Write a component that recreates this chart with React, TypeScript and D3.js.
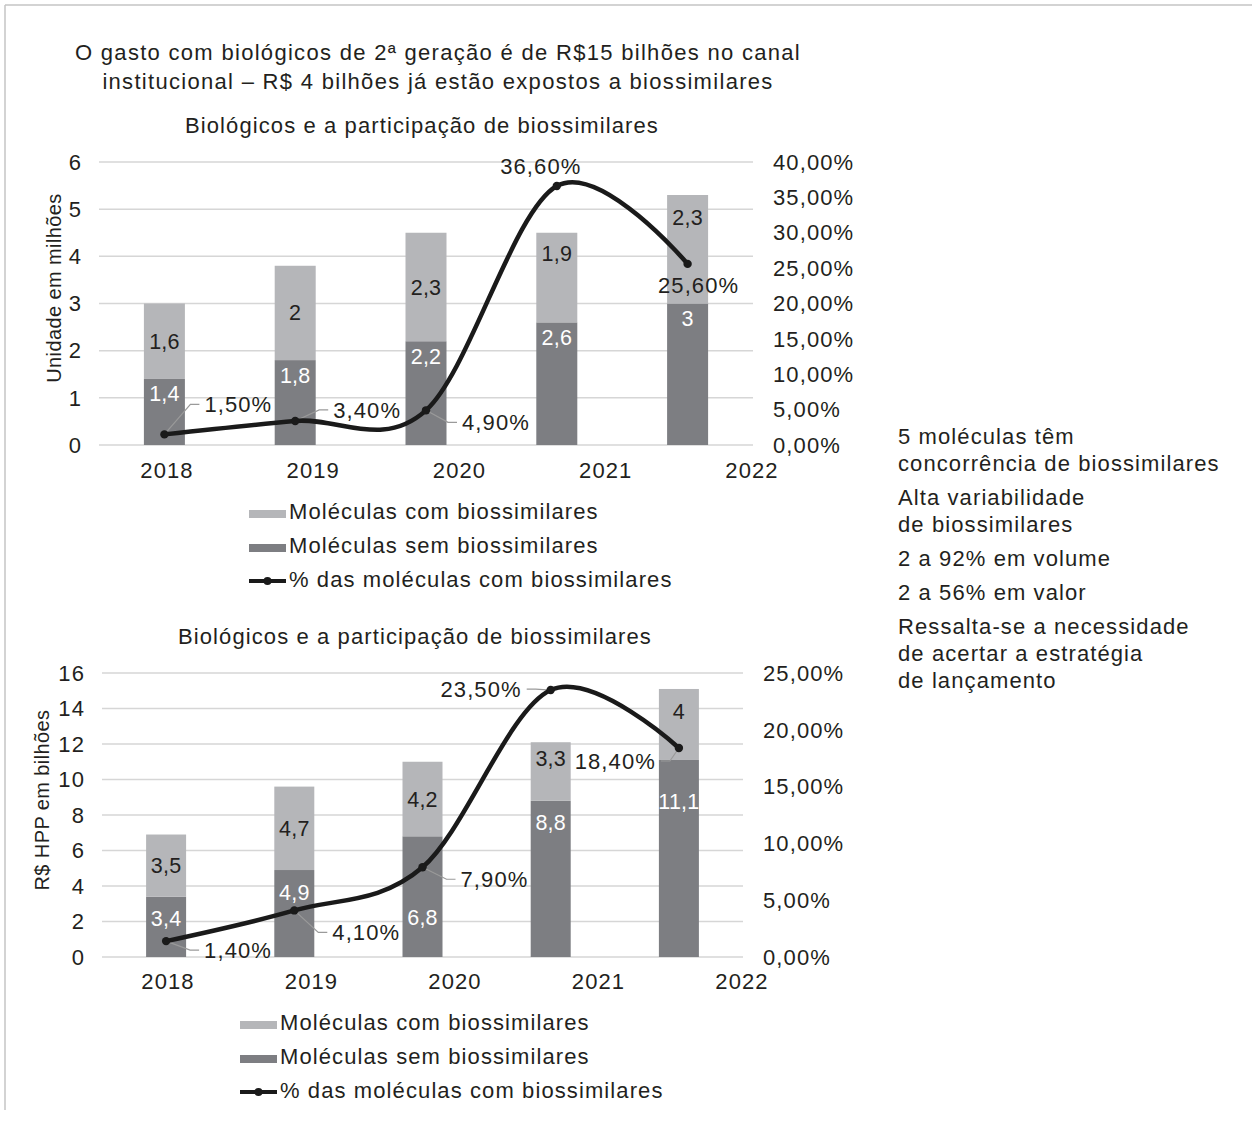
import * as d3 from 'd3'
import React from 'react'

const years = ['2018', '2019', '2020', '2021', '2022']

// gráfico 1 - unidades (milhões)
const unitsWithout = [1.4, 1.8, 2.2, 2.6, 3]
const unitsWith = [1.6, 2, 2.3, 1.9, 2.3]
const unitsShare = [1.5, 3.4, 4.9, 36.6, 25.6]

// gráfico 2 - R$ HPP (bilhões)
const valueWithout = [3.4, 4.9, 6.8, 8.8, 11.1]
const valueWith = [3.5, 4.7, 4.2, 3.3, 4]
const valueShare = [1.4, 4.1, 7.9, 23.5, 18.4]

const headline = [
    'O gasto com biológicos de 2ª geração é de R$15 bilhões no canal',
    'institucional – R$ 4 bilhões já estão expostos a biossimilares',
]
const chartTitle = 'Biológicos e a participação de biossimilares'
const legendLabels = [
    'Moléculas com biossimilares',
    'Moléculas sem biossimilares',
    '% das moléculas com biossimilares',
]
const notes = [
    ['5 moléculas têm', 'concorrência de biossimilares'],
    ['Alta variabilidade', 'de biossimilares'],
    ['2 a 92% em volume'],
    ['2 a 56% em valor'],
    ['Ressalta-se a necessidade', 'de acertar a estratégia', 'de lançamento'],
]

const FONT = "'Liberation Sans', Arial, Helvetica, sans-serif"
const INK = '#231f20'
const LIGHT = '#b5b6b9'
const DARK = '#7d7e82'
const GRID = '#d6d6d6'

const pt = d3.formatLocale({ decimal: ',', thousands: '.', grouping: [3], currency: ['R$', ''] })
const fmtVal = pt.format('.3~g')
const fmtPct = (v: number) => `${pt.format('.2f')(v)}%`

type Place = { dx: number; dy: number; anchor: 'start' | 'middle' | 'end'; leader: boolean }

type ChartProps = {
    left: number
    right: number
    top: number
    bottom: number
    yMax: number
    yStep: number
    pctMax: number
    pctStep: number
    without: number[]
    withB: number[]
    share: number[]
    yTitle: string
    yTitleX: number
    yTitleY: number
    titleX: number
    titleY: number
    labelStart: number
    labelY: number
    barW: number
    darkOffset: number
    darkNudge: number[]
    lightNudge: number[]
    places: Place[]
    legendX: number
    legendY: number
}

const Chart = (p: ChartProps): JSX.Element => {
    const x = d3.scaleBand<string>().domain(years).range([p.left, p.right]).padding(0)
    const y = d3.scaleLinear().domain([0, p.yMax]).range([p.bottom, p.top])
    const yPct = d3.scaleLinear().domain([0, p.pctMax]).range([p.bottom, p.top])
    const xLabel = d3.scalePoint<string>().domain(years).range([p.labelStart, p.right - 1])

    const yTicks = d3.range(0, p.yMax + 0.001, p.yStep)
    const pctTicks = d3.range(0, p.pctMax + 0.001, p.pctStep)

    const cx = (yr: string) => (x(yr) as number) + x.bandwidth() / 2
    const pts: [number, number][] = years.map((yr, i) => [cx(yr), yPct(p.share[i])])
    const line = d3.line().curve(d3.curveCardinal.tension(0))

    const txt = { fontFamily: FONT, fontSize: 22, letterSpacing: 1.1, fill: INK }
    const barTxt = { fontFamily: FONT, fontSize: 21.5, letterSpacing: 0.2 }

    return (
        <g>
            <text x={p.titleX} y={p.titleY} textAnchor="middle" {...txt}>
                {chartTitle}
            </text>

            {/* gridlines */}
            {yTicks.map((t) => (
                <line key={`g${t}`} x1={p.left} x2={p.right} y1={y(t)} y2={y(t)} stroke={GRID} strokeWidth={1.5} />
            ))}

            {/* left axis */}
            {yTicks.map((t) => (
                <text key={`l${t}`} x={p.left - 17} y={y(t)} dy="0.35em" textAnchor="end" {...txt}>
                    {t}
                </text>
            ))}
            {/* right axis */}
            {pctTicks.map((t) => (
                <text key={`r${t}`} x={p.right + 20} y={yPct(t)} dy="0.35em" textAnchor="start" {...txt}>
                    {fmtPct(t)}
                </text>
            ))}
            {/* x labels */}
            {years.map((yr) => (
                <text key={`x${yr}`} x={xLabel(yr)} y={p.labelY} dy="0.35em" textAnchor="middle" {...txt}>
                    {yr}
                </text>
            ))}

            <text
                transform={`translate(${p.yTitleX},${p.yTitleY}) rotate(-90)`}
                textAnchor="middle"
                fontFamily={FONT}
                fontSize={20}
                letterSpacing={0.4}
                fill={INK}
            >
                {p.yTitle}
            </text>

            {/* stacked bars */}
            {years.map((yr, i) => {
                const bx = cx(yr) - p.barW / 2
                const d0 = p.without[i]
                const d1 = d0 + p.withB[i]
                return (
                    <g key={`b${yr}`}>
                        <rect x={bx} y={y(d0)} width={p.barW} height={y(0) - y(d0)} fill={DARK} />
                        <rect x={bx} y={y(d1)} width={p.barW} height={y(d0) - y(d1)} fill={LIGHT} />
                        <text
                            x={cx(yr)}
                            y={y(d0) + p.darkOffset + p.darkNudge[i]}
                            dy="0.35em"
                            textAnchor="middle"
                            {...barTxt}
                            fill="#fff"
                        >
                            {fmtVal(d0)}
                        </text>
                        <text
                            x={cx(yr)}
                            y={(y(d0) + y(d1)) / 2 + p.lightNudge[i]}
                            dy="0.35em"
                            textAnchor="middle"
                            {...barTxt}
                            fill={INK}
                        >
                            {fmtVal(p.withB[i])}
                        </text>
                    </g>
                )
            })}

            {/* leader lines */}
            {pts.map(([px, py], i) => {
                const pl = p.places[i]
                if (!pl.leader) return null
                const s = pl.anchor === 'end' ? -1 : 1
                const d = `M${px},${py}L${px + pl.dx - s * 14},${py + pl.dy}L${px + pl.dx - s * 5},${py + pl.dy}`
                return <path key={`ld${i}`} d={d} fill="none" stroke="#9a9a9a" strokeWidth={1.2} />
            })}

            {/* share line */}
            <path d={line(pts) || ''} fill="none" stroke="#1a1a1a" strokeWidth={4.5} strokeLinecap="round" />
            {pts.map(([px, py], i) => (
                <circle key={`c${i}`} cx={px} cy={py} r={4.2} fill="#1a1a1a" />
            ))}
            {pts.map(([px, py], i) => {
                const pl = p.places[i]
                return (
                    <text
                        key={`pl${i}`}
                        x={px + pl.dx}
                        y={py + pl.dy}
                        dy="0.35em"
                        textAnchor={pl.anchor}
                        {...txt}
                    >
                        {fmtPct(p.share[i])}
                    </text>
                )
            })}

            {/* legend */}
            {legendLabels.map((lab, i) => {
                const ly = p.legendY + i * 34
                return (
                    <g key={`lg${i}`}>
                        {i < 2 ? (
                            <rect x={p.legendX} y={ly - 1} width={37} height={8} fill={i === 0 ? LIGHT : DARK} />
                        ) : (
                            <g>
                                <line
                                    x1={p.legendX}
                                    x2={p.legendX + 37}
                                    y1={ly + 2}
                                    y2={ly + 2}
                                    stroke="#1a1a1a"
                                    strokeWidth={4}
                                />
                                <circle cx={p.legendX + 18.5} cy={ly + 2} r={4} fill="#1a1a1a" />
                            </g>
                        )}
                        <text x={p.legendX + 40} y={ly} dy="0.35em" {...txt}>
                            {lab}
                        </text>
                    </g>
                )
            })}
        </g>
    )
}

const App = (): JSX.Element => {
    let noteY = 444
    const noteLines: { t: string; y: number }[] = []
    notes.forEach((grp, gi) => {
        if (gi > 0) noteY += 34
        grp.forEach((t, li) => {
            if (li > 0) noteY += 27
            noteLines.push({ t, y: noteY })
        })
    })

    return (
        <svg
            width={1252}
            height={1129}
            style={{ position: 'absolute', left: 0, top: 0, background: '#fff' }}
        >
            <rect width={1252} height={1129} fill="#fff" />
            <line x1={5} x2={1252} y1={5} y2={5} stroke="#c4c4c4" strokeWidth={1.5} />
            <line x1={5} x2={5} y1={5} y2={1110} stroke="#c4c4c4" strokeWidth={1.5} />

            {headline.map((t, i) => (
                <text
                    key={t}
                    x={438}
                    y={60 + i * 29}
                    textAnchor="middle"
                    fontFamily={FONT}
                    fontSize={22}
                    letterSpacing={1.3}
                    fill={INK}
                >
                    {t}
                </text>
            ))}

            <Chart
                left={99}
                right={753}
                top={162}
                bottom={445}
                yMax={6}
                yStep={1}
                pctMax={40}
                pctStep={5}
                without={unitsWithout}
                withB={unitsWith}
                share={unitsShare}
                yTitle="Unidade em milhões"
                yTitleX={61}
                yTitleY={288}
                titleX={422}
                titleY={133}
                labelStart={167}
                labelY={470}
                barW={41}
                darkOffset={15}
                darkNudge={[0, 0, 0, 0, 0]}
                lightNudge={[0, 0, 0, -24, -32]}
                places={[
                    { dx: 40, dy: -30, anchor: 'start', leader: true },
                    { dx: 38, dy: -11, anchor: 'start', leader: true },
                    { dx: 36, dy: 12, anchor: 'start', leader: true },
                    { dx: -16, dy: -20, anchor: 'middle', leader: false },
                    { dx: 11, dy: 21, anchor: 'middle', leader: false },
                ]}
                legendX={249}
                legendY={511}
            />

            <Chart
                left={102}
                right={743}
                top={673}
                bottom={957}
                yMax={16}
                yStep={2}
                pctMax={25}
                pctStep={5}
                without={valueWithout}
                withB={valueWith}
                share={valueShare}
                yTitle="R$ HPP em bilhões"
                yTitleX={49}
                yTitleY={800}
                titleX={415}
                titleY={644}
                labelStart={168}
                labelY={981}
                barW={40}
                darkOffset={22}
                darkNudge={[0, 0, 59, 0, 19]}
                lightNudge={[0, 0, 0, -13, -13]}
                places={[
                    { dx: 38, dy: 9, anchor: 'start', leader: true },
                    { dx: 38, dy: 22, anchor: 'start', leader: true },
                    { dx: 38, dy: 12, anchor: 'start', leader: true },
                    { dx: -29, dy: -1, anchor: 'end', leader: true },
                    { dx: -23, dy: 13, anchor: 'end', leader: true },
                ]}
                legendX={240}
                legendY={1022}
            />

            {noteLines.map((n) => (
                <text key={n.t} x={898} y={n.y} fontFamily={FONT} fontSize={22} letterSpacing={1.1} fill={INK}>
                    {n.t}
                </text>
            ))}
        </svg>
    )
}

export default App
